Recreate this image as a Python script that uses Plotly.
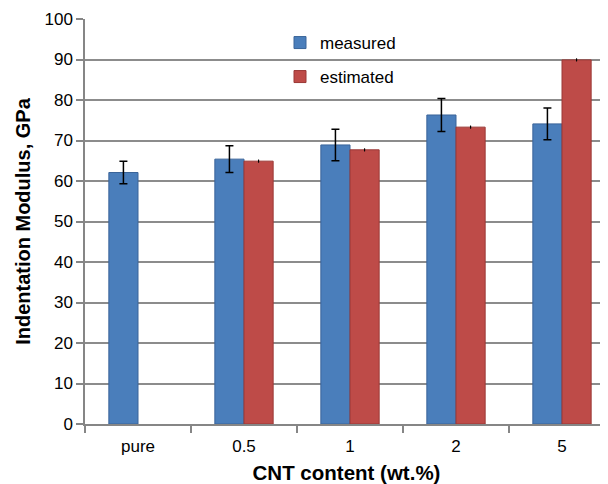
import plotly.graph_objects as go

categories = ["pure", "0.5", "1", "2", "5"]
measured = [62.1, 65.4, 68.9, 76.3, 74.1]
measured_err = [2.8, 3.3, 3.9, 4.1, 3.9]
estimated = [None, 64.9, 67.7, 73.3, 89.9]
estimated_err = [0, 0.25, 0.25, 0.25, 0.25]
y_ticks = [0, 10, 20, 30, 40, 50, 60, 70, 80, 90, 100]

FONT = "Liberation Sans, Arial, sans-serif"
OFF = 8  # default page body margin
W, H = 608 - OFF, 484 - OFF
# plot area in window pixels: x 85..608, y 19..424
L, R, T, B = 85 - OFF, 0, 19 - OFF, 484 - 424
PW = W - L - R
PH = H - T - B
CAT_W = 106.0

def px_x(px):
    return (px - OFF - L) / PW

def px_y(py):
    return 1 - (py - OFF - T) / PH

fig = go.Figure()
fig.add_trace(go.Bar(
    x=categories, y=measured, name="measured",
    marker=dict(color="#4a7ebb", line=dict(color="#3a6499", width=1)),
    error_y=dict(type="data", array=measured_err, visible=True,
                 color="black", thickness=1.5, width=4),
    legend="legend",
))
fig.add_trace(go.Bar(
    x=categories, y=estimated, name="estimated",
    marker=dict(color="#be4b48", line=dict(color="#9a3836", width=1)),
    error_y=dict(type="data", array=estimated_err, visible=True,
                 color="black", thickness=1.2, width=0.5),
    legend="legend2",
))

fig.update_layout(
    width=W, height=H,
    margin=dict(l=L, r=R, t=T, b=B, pad=0, autoexpand=False),
    paper_bgcolor="white", plot_bgcolor="white",
    barmode="group", bargap=0.45, bargroupgap=0,
    font=dict(family=FONT, size=16, color="black"),
    legend=dict(x=px_x(280), y=px_y(25), xanchor="left", yanchor="top",
                bgcolor="rgba(0,0,0,0)", font=dict(size=17, color="black"),
                itemwidth=30, borderwidth=0),
    legend2=dict(x=px_x(280), y=px_y(59), xanchor="left", yanchor="top",
                 bgcolor="rgba(0,0,0,0)", font=dict(size=17, color="black"),
                 itemwidth=30, borderwidth=0),
    showlegend=True,
)
fig.update_xaxes(
    type="category", range=[-0.5, -0.5 + PW / CAT_W], automargin=False,
    tickson="boundaries", ticks="outside", ticklen=7, tickwidth=1.5,
    tickcolor="#868686", showline=True, linecolor="#868686", linewidth=1.5,
    showgrid=False, tickfont=dict(size=17, color="black"), ticklabelstandoff=6,
    title=dict(text="<b>CNT content (wt.%)</b>", font=dict(size=20.5, color="black"),
               standoff=12),
)
fig.update_yaxes(
    range=[0, 100], tickvals=y_ticks, ticks="outside", ticklen=7, automargin=False,
    tickwidth=1.5, tickcolor="#868686", showline=True, linecolor="#868686",
    linewidth=1.5, showgrid=True, gridcolor="#8c8c8c", gridwidth=1.5,
    zeroline=False, tickfont=dict(size=17, color="black"),
    title=dict(text="<b>Indentation Modulus, GPa</b>", font=dict(size=20, color="black"),
               standoff=8),
)

fig.write_html("out.html")
